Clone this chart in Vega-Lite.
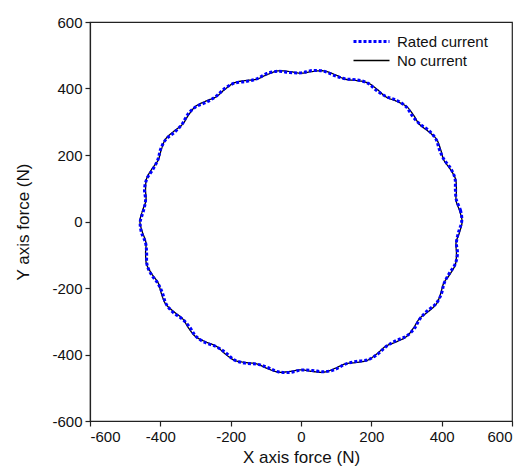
{
  "$schema": "https://vega.github.io/schema/vega-lite/v6.json",
  "width": 422,
  "height": 399,
  "autosize": {"type": "none"},
  "padding": {"left": 90, "top": 22, "right": 16, "bottom": 49},
  "background": "white",
  "config": {
    "font": "Liberation Sans",
    "view": {"stroke": "#222", "strokeWidth": 1.2},
    "axis": {"grid": false, "domainColor": "#222", "tickColor": "#222", "labelColor": "#111", "titleColor": "#111", "labelFontSize": 15, "titleFontSize": 17, "titleFontWeight": "normal", "tickSize": 5, "labelPadding": 3, "domainWidth": 1.2, "tickWidth": 1.2, "labelExpr": "'' + datum.value"}
  },
  "data": {"values": [
    {"s":"No current","k":0,"x":458,"y":0},{"s":"No current","k":1,"x":451,"y":32},{"s":"No current","k":2,"x":441,"y":63},{"s":"No current","k":3,"x":442,"y":96},{"s":"No current","k":4,"x":439,"y":129},{"s":"No current","k":5,"x":424,"y":158},{"s":"No current","k":6,"x":406,"y":185},{"s":"No current","k":7,"x":397,"y":217},{"s":"No current","k":8,"x":385,"y":248},{"s":"No current","k":9,"x":362,"y":271},{"s":"No current","k":10,"x":337,"y":292},{"s":"No current","k":11,"x":320,"y":320},{"s":"No current","k":12,"x":300,"y":346},{"s":"No current","k":13,"x":271,"y":362},{"s":"No current","k":14,"x":241,"y":375},{"s":"No current","k":15,"x":217,"y":397},{"s":"No current","k":16,"x":190,"y":417},{"s":"No current","k":17,"x":158,"y":424},{"s":"No current","k":18,"x":126,"y":428},{"s":"No current","k":19,"x":96,"y":442},{"s":"No current","k":20,"x":65,"y":453},{"s":"No current","k":21,"x":32,"y":451},
    {"s":"No current","k":22,"x":0,"y":446},{"s":"No current","k":23,"x":-32,"y":451},{"s":"No current","k":24,"x":-65,"y":453},{"s":"No current","k":25,"x":-96,"y":442},{"s":"No current","k":26,"x":-126,"y":428},{"s":"No current","k":27,"x":-158,"y":424},{"s":"No current","k":28,"x":-190,"y":417},{"s":"No current","k":29,"x":-217,"y":397},{"s":"No current","k":30,"x":-241,"y":375},{"s":"No current","k":31,"x":-271,"y":362},{"s":"No current","k":32,"x":-300,"y":346},{"s":"No current","k":33,"x":-320,"y":320},{"s":"No current","k":34,"x":-337,"y":292},{"s":"No current","k":35,"x":-362,"y":271},{"s":"No current","k":36,"x":-385,"y":248},{"s":"No current","k":37,"x":-397,"y":217},{"s":"No current","k":38,"x":-406,"y":185},{"s":"No current","k":39,"x":-424,"y":158},{"s":"No current","k":40,"x":-439,"y":129},{"s":"No current","k":41,"x":-442,"y":96},{"s":"No current","k":42,"x":-441,"y":63},{"s":"No current","k":43,"x":-451,"y":32},
    {"s":"No current","k":44,"x":-458,"y":0},{"s":"No current","k":45,"x":-451,"y":-32},{"s":"No current","k":46,"x":-441,"y":-63},{"s":"No current","k":47,"x":-442,"y":-96},{"s":"No current","k":48,"x":-439,"y":-129},{"s":"No current","k":49,"x":-424,"y":-158},{"s":"No current","k":50,"x":-406,"y":-185},{"s":"No current","k":51,"x":-397,"y":-217},{"s":"No current","k":52,"x":-385,"y":-248},{"s":"No current","k":53,"x":-362,"y":-271},{"s":"No current","k":54,"x":-337,"y":-292},{"s":"No current","k":55,"x":-320,"y":-320},{"s":"No current","k":56,"x":-300,"y":-346},{"s":"No current","k":57,"x":-271,"y":-362},{"s":"No current","k":58,"x":-241,"y":-375},{"s":"No current","k":59,"x":-217,"y":-397},{"s":"No current","k":60,"x":-190,"y":-417},{"s":"No current","k":61,"x":-158,"y":-424},{"s":"No current","k":62,"x":-126,"y":-428},{"s":"No current","k":63,"x":-96,"y":-442},{"s":"No current","k":64,"x":-65,"y":-453},{"s":"No current","k":65,"x":-32,"y":-451},
    {"s":"No current","k":66,"x":0,"y":-446},{"s":"No current","k":67,"x":32,"y":-451},{"s":"No current","k":68,"x":65,"y":-453},{"s":"No current","k":69,"x":96,"y":-442},{"s":"No current","k":70,"x":126,"y":-428},{"s":"No current","k":71,"x":158,"y":-424},{"s":"No current","k":72,"x":190,"y":-417},{"s":"No current","k":73,"x":217,"y":-397},{"s":"No current","k":74,"x":241,"y":-375},{"s":"No current","k":75,"x":271,"y":-362},{"s":"No current","k":76,"x":300,"y":-346},{"s":"No current","k":77,"x":320,"y":-320},{"s":"No current","k":78,"x":337,"y":-292},{"s":"No current","k":79,"x":362,"y":-271},{"s":"No current","k":80,"x":385,"y":-248},{"s":"No current","k":81,"x":397,"y":-217},{"s":"No current","k":82,"x":406,"y":-185},{"s":"No current","k":83,"x":424,"y":-158},{"s":"No current","k":84,"x":439,"y":-129},{"s":"No current","k":85,"x":442,"y":-96},{"s":"No current","k":86,"x":441,"y":-63},{"s":"No current","k":87,"x":451,"y":-32},
    {"s":"Rated current","k":0,"x":457,"y":0},{"s":"Rated current","k":1,"x":454,"y":32},{"s":"Rated current","k":2,"x":442,"y":64},{"s":"Rated current","k":3,"x":439,"y":95},{"s":"Rated current","k":4,"x":438,"y":129},{"s":"Rated current","k":5,"x":426,"y":159},{"s":"Rated current","k":6,"x":407,"y":186},{"s":"Rated current","k":7,"x":394,"y":215},{"s":"Rated current","k":8,"x":384,"y":247},{"s":"Rated current","k":9,"x":364,"y":273},{"s":"Rated current","k":10,"x":338,"y":293},{"s":"Rated current","k":11,"x":317,"y":317},{"s":"Rated current","k":12,"x":299,"y":345},{"s":"Rated current","k":13,"x":273,"y":364},{"s":"Rated current","k":14,"x":242,"y":376},{"s":"Rated current","k":15,"x":215,"y":394},{"s":"Rated current","k":16,"x":190,"y":416},{"s":"Rated current","k":17,"x":159,"y":426},{"s":"Rated current","k":18,"x":126,"y":429},{"s":"Rated current","k":19,"x":95,"y":439},{"s":"Rated current","k":20,"x":65,"y":452},{"s":"Rated current","k":21,"x":32,"y":454},
    {"s":"Rated current","k":22,"x":0,"y":447},{"s":"Rated current","k":23,"x":-32,"y":448},{"s":"Rated current","k":24,"x":-65,"y":452},{"s":"Rated current","k":25,"x":-97,"y":445},{"s":"Rated current","k":26,"x":-126,"y":429},{"s":"Rated current","k":27,"x":-157,"y":421},{"s":"Rated current","k":28,"x":-190,"y":416},{"s":"Rated current","k":29,"x":-218,"y":399},{"s":"Rated current","k":30,"x":-242,"y":376},{"s":"Rated current","k":31,"x":-269,"y":359},{"s":"Rated current","k":32,"x":-299,"y":345},{"s":"Rated current","k":33,"x":-322,"y":322},{"s":"Rated current","k":34,"x":-338,"y":293},{"s":"Rated current","k":35,"x":-359,"y":269},{"s":"Rated current","k":36,"x":-384,"y":247},{"s":"Rated current","k":37,"x":-399,"y":218},{"s":"Rated current","k":38,"x":-407,"y":186},{"s":"Rated current","k":39,"x":-421,"y":157},{"s":"Rated current","k":40,"x":-438,"y":129},{"s":"Rated current","k":41,"x":-445,"y":97},{"s":"Rated current","k":42,"x":-442,"y":64},{"s":"Rated current","k":43,"x":-448,"y":32},
    {"s":"Rated current","k":44,"x":-457,"y":0},{"s":"Rated current","k":45,"x":-454,"y":-32},{"s":"Rated current","k":46,"x":-442,"y":-64},{"s":"Rated current","k":47,"x":-439,"y":-95},{"s":"Rated current","k":48,"x":-438,"y":-129},{"s":"Rated current","k":49,"x":-426,"y":-159},{"s":"Rated current","k":50,"x":-407,"y":-186},{"s":"Rated current","k":51,"x":-394,"y":-215},{"s":"Rated current","k":52,"x":-384,"y":-247},{"s":"Rated current","k":53,"x":-364,"y":-273},{"s":"Rated current","k":54,"x":-338,"y":-293},{"s":"Rated current","k":55,"x":-317,"y":-317},{"s":"Rated current","k":56,"x":-299,"y":-345},{"s":"Rated current","k":57,"x":-273,"y":-364},{"s":"Rated current","k":58,"x":-242,"y":-376},{"s":"Rated current","k":59,"x":-215,"y":-394},{"s":"Rated current","k":60,"x":-190,"y":-416},{"s":"Rated current","k":61,"x":-159,"y":-426},{"s":"Rated current","k":62,"x":-126,"y":-429},{"s":"Rated current","k":63,"x":-95,"y":-439},{"s":"Rated current","k":64,"x":-65,"y":-452},{"s":"Rated current","k":65,"x":-32,"y":-454},
    {"s":"Rated current","k":66,"x":0,"y":-447},{"s":"Rated current","k":67,"x":32,"y":-448},{"s":"Rated current","k":68,"x":65,"y":-452},{"s":"Rated current","k":69,"x":97,"y":-445},{"s":"Rated current","k":70,"x":126,"y":-429},{"s":"Rated current","k":71,"x":157,"y":-421},{"s":"Rated current","k":72,"x":190,"y":-416},{"s":"Rated current","k":73,"x":218,"y":-399},{"s":"Rated current","k":74,"x":242,"y":-376},{"s":"Rated current","k":75,"x":269,"y":-359},{"s":"Rated current","k":76,"x":299,"y":-345},{"s":"Rated current","k":77,"x":322,"y":-322},{"s":"Rated current","k":78,"x":338,"y":-293},{"s":"Rated current","k":79,"x":359,"y":-269},{"s":"Rated current","k":80,"x":384,"y":-247},{"s":"Rated current","k":81,"x":399,"y":-218},{"s":"Rated current","k":82,"x":407,"y":-186},{"s":"Rated current","k":83,"x":421,"y":-157},{"s":"Rated current","k":84,"x":438,"y":-129},{"s":"Rated current","k":85,"x":445,"y":-97},{"s":"Rated current","k":86,"x":442,"y":-64},{"s":"Rated current","k":87,"x":448,"y":-32}
  ]},
  "mark": {"type": "line", "interpolate": "cardinal-closed"},
  "encoding": {
    "x": {"field": "x", "type": "quantitative", "scale": {"domain": [-600, 600], "nice": false}, "axis": {"values": [-600, -400, -200, 0, 200, 400, 600], "title": "X axis force (N)", "titlePadding": 5}},
    "y": {"field": "y", "type": "quantitative", "scale": {"domain": [-600, 600], "nice": false}, "axis": {"values": [-600, -400, -200, 0, 200, 400, 600], "title": "Y axis force (N)", "titlePadding": 19}},
    "order": {"field": "k", "type": "quantitative"},
    "color": {"field": "s", "type": "nominal", "scale": {"domain": ["Rated current", "No current"], "range": ["#0000ff", "#000000"]},
      "legend": {"title": null, "orient": "none", "legendX": 274, "legendY": 12, "padding": 0, "symbolType": "M-3,0H3", "symbolSize": 144, "labelFontSize": 15, "labelColor": "#111", "rowPadding": 3, "labelOffset": 18}},
    "strokeDash": {"field": "s", "type": "nominal", "scale": {"domain": ["Rated current", "No current"], "range": [[3, 2], [1, 0]]}},
    "strokeWidth": {"field": "s", "type": "nominal", "scale": {"domain": ["Rated current", "No current"], "range": [3, 1.3]}}
  }
}
